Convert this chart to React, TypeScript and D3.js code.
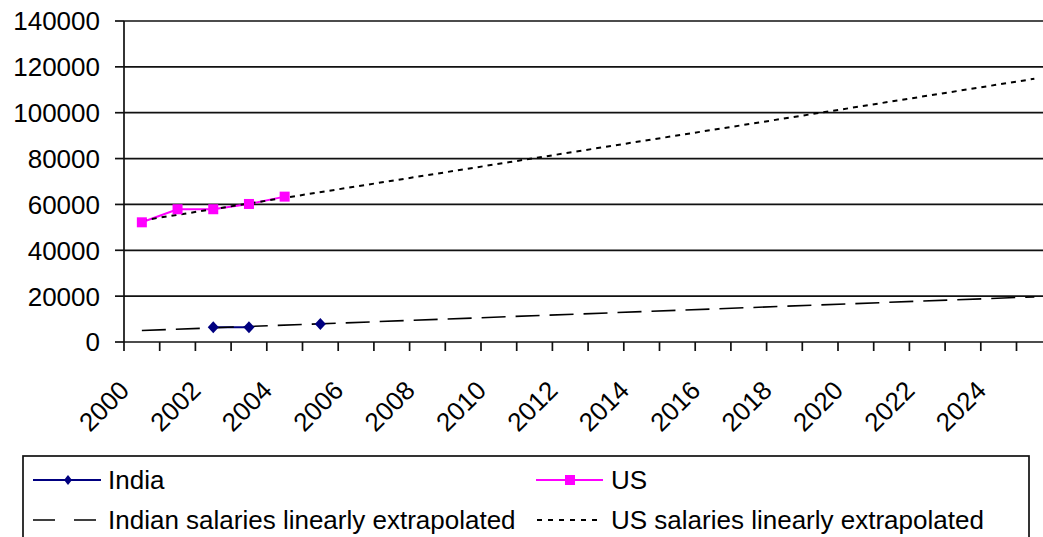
import React from "react";
import * as d3 from "d3";

const categories = [
  "2000", "2001", "2002", "2003", "2004", "2005", "2006", "2007", "2008",
  "2009", "2010", "2011", "2012", "2013", "2014", "2015", "2016", "2017",
  "2018", "2019", "2020", "2021", "2022", "2023", "2024", "2025",
];
const xTickLabels = [
  "2000", "2002", "2004", "2006", "2008", "2010", "2012",
  "2014", "2016", "2018", "2020", "2022", "2024",
];
const yTicks = [0, 20000, 40000, 60000, 80000, 100000, 120000, 140000];

const indiaYears = ["2002", "2003", "2004", "2005"];
const indiaValues: (number | null)[] = [6400, 6400, null, 7900];
const usYears = ["2000", "2001", "2002", "2003", "2004"];
const usValues = [52200, 57900, 57900, 60200, 63400];

const trendYears = ["2000", "2025"];
const indiaTrendValues = [5000, 19700];
const usTrendValues = [53000, 114800];

const W = 1043;
const H = 537;
const left = 124;
const bandW = 35.7;
const top = 21;
const bottom = 342;
const FONT = "'Liberation Sans', Arial, sans-serif";
const NAVY = "#000080";
const MAGENTA = "#FF00FF";

export default function App() {
  const x = d3
    .scaleBand<string>()
    .domain(categories)
    .range([left, left + bandW * categories.length])
    .padding(0);
  const cx = (c: string) => (x(c) as number) + x.bandwidth() / 2;
  const y = d3.scaleLinear().domain([0, 140000]).range([bottom, top]);

  const line = d3
    .line<{ c: string; v: number | null }>()
    .defined((d) => d.v != null)
    .x((d) => cx(d.c))
    .y((d) => y(d.v as number));

  const india = indiaYears.map((c, i) => ({ c, v: indiaValues[i] }));
  const us = usYears.map((c, i) => ({ c, v: usValues[i] }));
  const indiaTrend = trendYears.map((c, i) => ({ c, v: indiaTrendValues[i] }));
  const usTrend = trendYears.map((c, i) => ({ c, v: usTrendValues[i] }));

  const diamond = (px: number, py: number, w: number, h: number) =>
    `M${px},${py - h / 2}L${px + w / 2},${py}L${px},${py + h / 2}L${px - w / 2},${py}Z`;

  const tickPositions = categories.map((c) => x(c) as number);
  const xEnd = left + bandW * categories.length;

  return (
    <svg
      width={W}
      height={H}
      style={{ position: "absolute", left: 0, top: 0, background: "#fff" }}
      fontFamily={FONT}
    >
      <rect x={0} y={0} width={W} height={H} fill="#fff" />
      {/* gridlines */}
      {yTicks.slice(1).map((t) => (
        <line key={t} x1={left} x2={xEnd} y1={y(t)} y2={y(t)} stroke="#111" strokeWidth={1.7} />
      ))}
      {/* y axis */}
      <line x1={left} x2={left} y1={top} y2={bottom} stroke="#111" strokeWidth={1.7} />
      {yTicks.map((t) => (
        <g key={t}>
          <line x1={left - 9} x2={left} y1={y(t)} y2={y(t)} stroke="#111" strokeWidth={1.7} />
          <text x={100} y={y(t)} dy="0.36em" textAnchor="end" fontSize={26} fill="#000">
            {t}
          </text>
        </g>
      ))}
      {/* x axis */}
      <line x1={left} x2={xEnd} y1={bottom} y2={bottom} stroke="#111" strokeWidth={1.7} />
      {tickPositions.map((p, i) => (
        <line key={i} x1={p} x2={p} y1={bottom} y2={bottom + 9} stroke="#111" strokeWidth={1.7} />
      ))}
      {xTickLabels.map((lab) => {
        const ax = cx(lab) - 11;
        const ay = 392;
        return (
          <text
            key={lab}
            x={ax}
            y={ay}
            textAnchor="end"
            fontSize={26}
            fill="#000"
            transform={`rotate(-45 ${ax} ${ay})`}
          >
            {lab}
          </text>
        );
      })}
      {/* series lines */}
      <path d={line(india) || ""} fill="none" stroke={NAVY} strokeWidth={2} />
      <path d={line(us) || ""} fill="none" stroke={MAGENTA} strokeWidth={2} />
      {/* trend lines */}
      <path d={line(indiaTrend) || ""} fill="none" stroke="#000" strokeWidth={1.6} strokeDasharray="24,10" />
      <path d={line(usTrend) || ""} fill="none" stroke="#000" strokeWidth={2} strokeDasharray="5,5" />
      {/* markers */}
      {india
        .filter((d) => d.v != null)
        .map((d) => (
          <path key={d.c} d={diamond(cx(d.c), y(d.v as number), 11, 12)} fill={NAVY} />
        ))}
      {us.map((d) => (
        <rect key={d.c} x={cx(d.c) - 5} y={y(d.v as number) - 5} width={10} height={10} fill={MAGENTA} />
      ))}
      {/* legend */}
      <rect x={23} y={456} width={1006} height={100} fill="#fff" stroke="#111" strokeWidth={1.7} />
      <line x1={33} x2={101} y1={480} y2={480} stroke={NAVY} strokeWidth={2} />
      <path d={diamond(68, 480, 8, 10)} fill={NAVY} />
      <text x={108} y={489} fontSize={26} fill="#000">India</text>
      <line x1={536} x2={603} y1={480} y2={480} stroke={MAGENTA} strokeWidth={2} />
      <rect x={565} y={475} width={10} height={10} fill={MAGENTA} />
      <text x={611} y={489} fontSize={26} fill="#000">US</text>
      <line x1={33} x2={101} y1={520} y2={520} stroke="#000" strokeWidth={1.6} strokeDasharray="22,19" />
      <text x={108} y={529} fontSize={26} fill="#000">Indian salaries linearly extrapolated</text>
      <line x1={537} x2={603} y1={520} y2={520} stroke="#000" strokeWidth={2} strokeDasharray="5,6" />
      <text x={611} y={529} fontSize={26} fill="#000">US salaries linearly extrapolated</text>
    </svg>
  );
}
